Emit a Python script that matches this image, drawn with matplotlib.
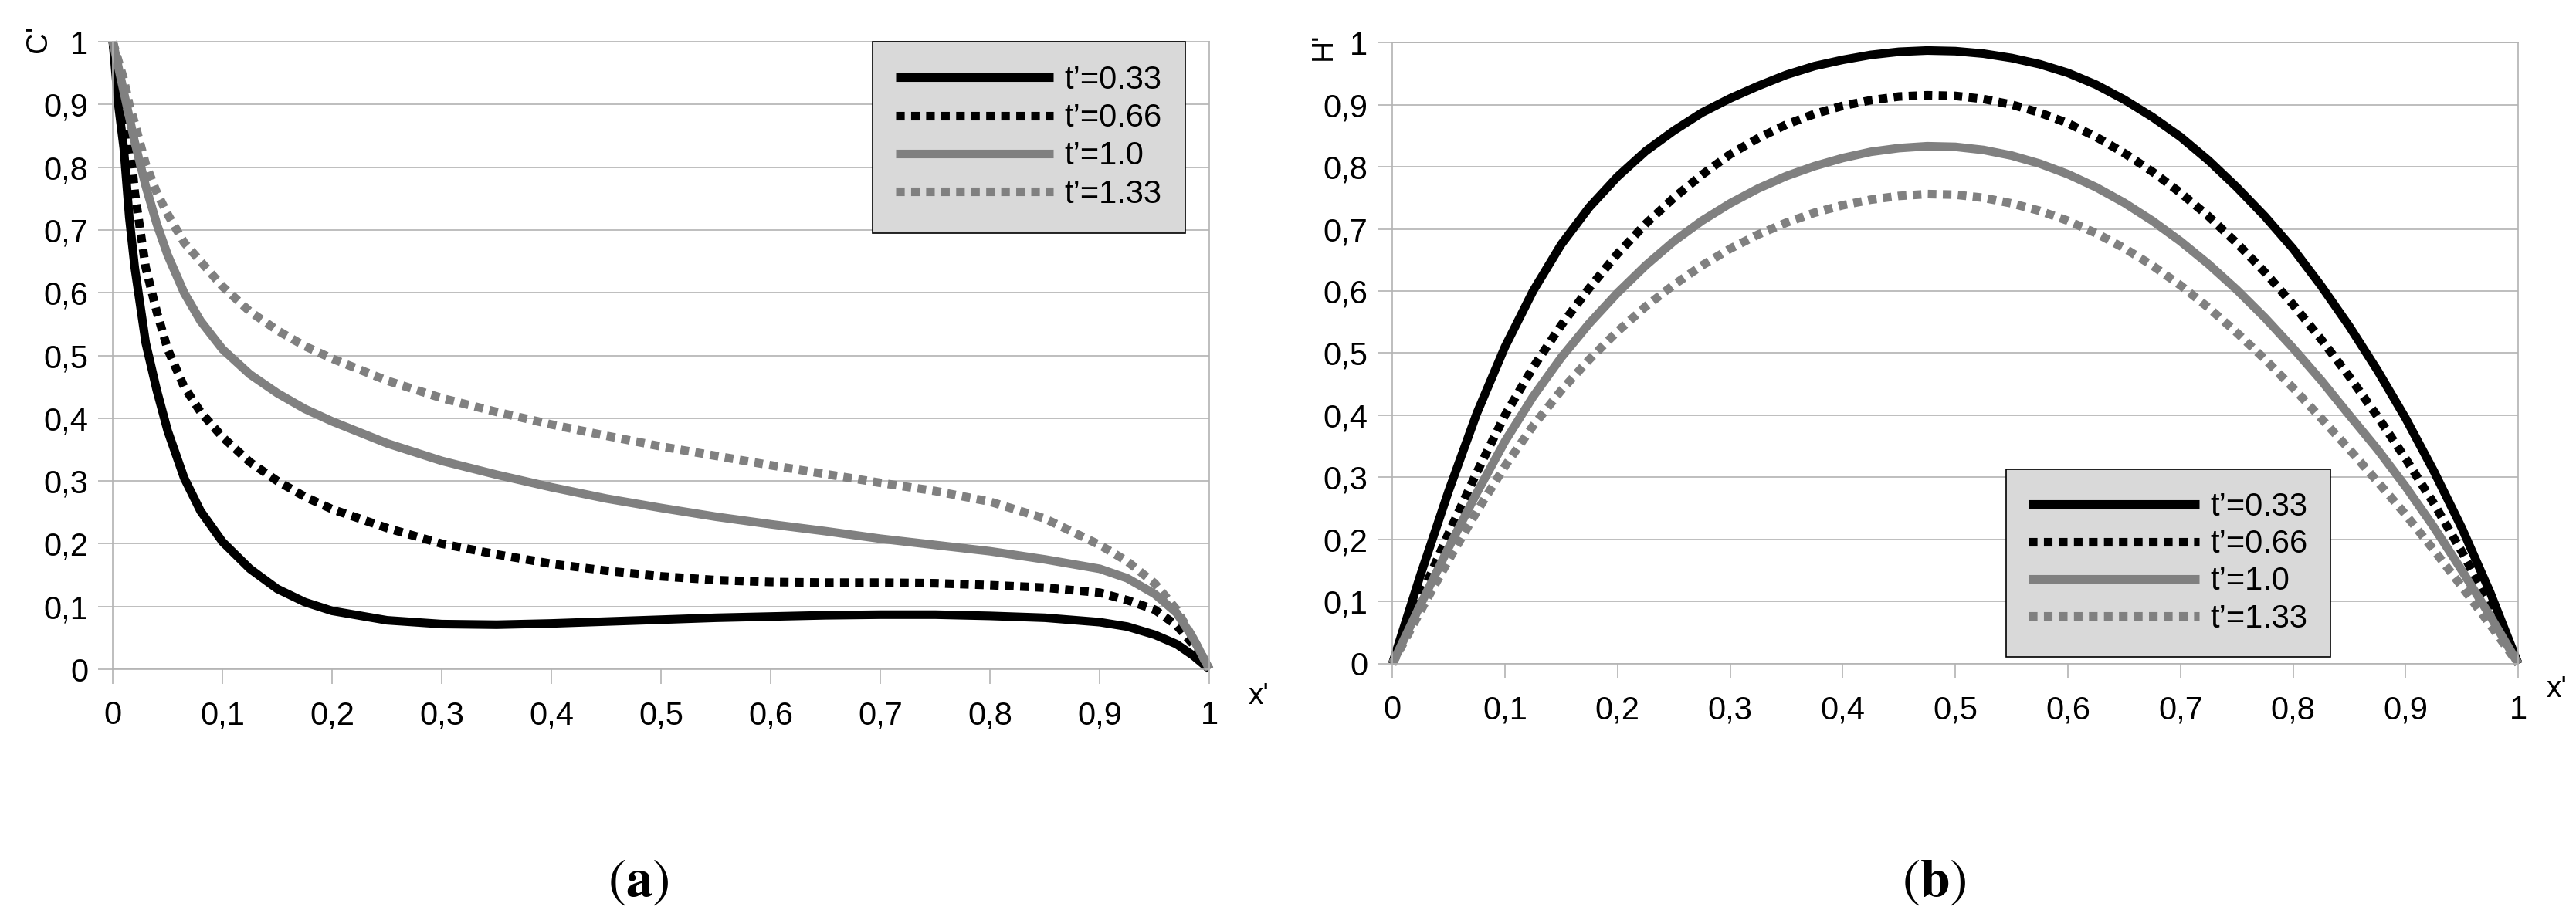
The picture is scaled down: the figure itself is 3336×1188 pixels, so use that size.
# 濃度 C' と H' の空間分布（t' ごと）を2枚並べて描く

import matplotlib.pyplot as plt
from matplotlib import rcParams

rcParams['font.family'] = ['Liberation Sans', 'DejaVu Sans']
rcParams['mathtext.fontset'] = 'stix'

# (a) C'(x') の読み取り値
x_c = [0, 0.005, 0.01, 0.015, 0.02, 0.03, 0.04, 0.05, 0.065, 0.08, 0.1, 0.125,
       0.15, 0.175, 0.2, 0.25, 0.3, 0.35, 0.4, 0.45, 0.5, 0.55, 0.6, 0.65, 0.7,
       0.75, 0.8, 0.85, 0.9, 0.925, 0.95, 0.97, 0.985, 1.0]
c_t033 = [1.0, 0.9, 0.83, 0.72, 0.64, 0.52, 0.445, 0.38, 0.305, 0.252, 0.203,
          0.16, 0.128, 0.107, 0.093, 0.078, 0.072, 0.071, 0.073, 0.076, 0.079,
          0.082, 0.084, 0.086, 0.087, 0.087, 0.085, 0.082, 0.075, 0.068, 0.055,
          0.04, 0.022, 0.0]
c_t066 = [1.0, 0.94, 0.92, 0.85, 0.76, 0.64, 0.57, 0.51, 0.45, 0.41, 0.37, 0.33,
          0.30, 0.275, 0.255, 0.225, 0.20, 0.183, 0.168, 0.157, 0.148, 0.142,
          0.139, 0.138, 0.138, 0.137, 0.134, 0.13, 0.122, 0.11, 0.095, 0.07,
          0.04, 0.0]
c_t100 = [1.0, 0.96, 0.92, 0.88, 0.84, 0.77, 0.71, 0.66, 0.60, 0.555, 0.51, 0.47,
          0.44, 0.415, 0.395, 0.36, 0.332, 0.31, 0.29, 0.272, 0.257, 0.243,
          0.231, 0.22, 0.208, 0.198, 0.188, 0.175, 0.16, 0.145, 0.12, 0.09,
          0.05, 0.0]
c_t133 = [1.0, 0.97, 0.94, 0.90, 0.87, 0.805, 0.76, 0.725, 0.68, 0.65, 0.61, 0.57,
          0.54, 0.515, 0.495, 0.46, 0.432, 0.41, 0.39, 0.372, 0.355, 0.34,
          0.325, 0.311, 0.297, 0.284, 0.267, 0.24, 0.198, 0.172, 0.137, 0.095,
          0.05, 0.0]

# (b) H'(x') の読み取り値
x_h = [0, 0.025, 0.05, 0.075, 0.1, 0.125, 0.15, 0.175, 0.2, 0.225, 0.25, 0.275,
       0.3, 0.325, 0.35, 0.375, 0.4, 0.425, 0.45, 0.475, 0.5, 0.525, 0.55, 0.575,
       0.6, 0.625, 0.65, 0.675, 0.7, 0.725, 0.75, 0.775, 0.8, 0.825, 0.85, 0.875,
       0.9, 0.925, 0.95, 0.975, 1.0]
h_t033 = [0, 0.143, 0.278, 0.403, 0.51, 0.6, 0.675, 0.735, 0.784, 0.825, 0.858,
          0.887, 0.91, 0.93, 0.948, 0.962, 0.972, 0.98, 0.985, 0.987, 0.986,
          0.982, 0.975, 0.965, 0.951, 0.932, 0.908, 0.88, 0.848, 0.81, 0.767,
          0.72, 0.668, 0.608, 0.543, 0.472, 0.395, 0.31, 0.218, 0.115, 0]
h_t066 = [0, 0.107, 0.21, 0.308, 0.4, 0.477, 0.545, 0.605, 0.66, 0.708, 0.75,
          0.787, 0.82, 0.846, 0.868, 0.885, 0.898, 0.907, 0.913, 0.915, 0.914,
          0.909, 0.9, 0.887, 0.87, 0.848, 0.822, 0.792, 0.758, 0.72, 0.677,
          0.63, 0.578, 0.522, 0.462, 0.398, 0.33, 0.258, 0.18, 0.095, 0]
h_t100 = [0, 0.095, 0.187, 0.275, 0.358, 0.43, 0.493, 0.548, 0.597, 0.641, 0.68,
          0.713, 0.741, 0.765, 0.785, 0.801, 0.814, 0.824, 0.83, 0.833, 0.832,
          0.827, 0.818, 0.805, 0.788, 0.767, 0.742, 0.713, 0.68, 0.643, 0.602,
          0.557, 0.508, 0.456, 0.4, 0.345, 0.285, 0.22, 0.15, 0.077, 0]
h_t133 = [0, 0.085, 0.167, 0.245, 0.318, 0.383, 0.44, 0.49, 0.535, 0.575, 0.61,
          0.641, 0.668, 0.691, 0.71, 0.726, 0.738, 0.747, 0.753, 0.756, 0.755,
          0.75, 0.741, 0.729, 0.713, 0.693, 0.669, 0.641, 0.609, 0.573, 0.533,
          0.49, 0.444, 0.395, 0.345, 0.293, 0.24, 0.183, 0.124, 0.063, 0]

labels = ["t’=0.33", "t’=0.66", "t’=1.0", "t’=1.33"]
colors = ['black', 'black', '#808080', '#808080']
styles = ['-', (0, (1.0, 0.75)), '-', (0, (1.0, 0.75))]

ticks = [0, 0.1, 0.2, 0.3, 0.4, 0.5, 0.6, 0.7, 0.8, 0.9, 1.0]
tick_labels = ["0", "0,1", "0,2", "0,3", "0,4", "0,5", "0,6", "0,7", "0,8", "0,9", "1"]

grid_col = '#b3b3b3'

fig = plt.figure(figsize=(33.36, 11.88), dpi=100)
ax1 = fig.add_axes([0.0438, 0.2702, 0.4257, 0.6843])
ax2 = fig.add_axes([0.5405, 0.2761, 0.4371, 0.6776])


def style_axes(ax):
    ax.set_xlim(0, 1)
    ax.set_ylim(0, 1)
    ax.set_xticks(ticks)
    ax.set_xticklabels(tick_labels)
    ax.set_yticks(ticks)
    ax.set_yticklabels(tick_labels)
    for s in ax.spines.values():
        s.set_color(grid_col)
        s.set_linewidth(1.2)
    ax.grid(axis='y', color=grid_col, linewidth=1.2)
    ax.set_axisbelow(True)
    ax.tick_params(axis='both', length=14, width=1.2, color=grid_col,
                   labelsize=30, direction='out')
    ax.tick_params(axis='x', pad=15)
    ax.tick_params(axis='y', pad=9)


# (a)
for y, lab, c, ls in zip([c_t033, c_t066, c_t100, c_t133], labels, colors, styles):
    ax1.plot(x_c, y, color=c, linestyle=ls, linewidth=8, label=lab,
             solid_capstyle='butt', solid_joinstyle='round', clip_on=False)
style_axes(ax1)
leg1 = ax1.legend(loc='upper right', bbox_to_anchor=(0.978, 1.0), fontsize=30,
                  handlelength=4.9, handletextpad=0.35, labelspacing=0.22,
                  borderpad=0.72, borderaxespad=0, fancybox=False,
                  facecolor='#d9d9d9', edgecolor='black', framealpha=1)
leg1.get_frame().set_linewidth(1.2)
ax1.text(-0.068, 1.005, "C'", transform=ax1.transAxes, rotation=90,
         ha='center', va='center', fontsize=28)
ax1.text(1.045, -0.043, "x'", transform=ax1.transAxes,
         ha='center', va='center', fontsize=28)

# (b)
for y, lab, c, ls in zip([h_t033, h_t066, h_t100, h_t133], labels, colors, styles):
    ax2.plot(x_h, y, color=c, linestyle=ls, linewidth=8, label=lab,
             solid_capstyle='butt', solid_joinstyle='round', clip_on=False)
style_axes(ax2)
leg2 = ax2.legend(loc='lower left', bbox_to_anchor=(0.545, 0.0112), fontsize=30,
                  handlelength=5.3, handletextpad=0.35, labelspacing=0.2,
                  borderpad=0.7, borderaxespad=0, fancybox=False,
                  facecolor='#d9d9d9', edgecolor='black', framealpha=1)
leg2.get_frame().set_linewidth(1.2)
ax2.text(-0.061, 0.994, "H'", transform=ax2.transAxes, rotation=90,
         ha='center', va='center', fontsize=28)
ax2.text(1.034, -0.041, "x'", transform=ax2.transAxes,
         ha='center', va='center', fontsize=28)

# 図の下のキャプション
fig.text(0.2479, 0.038, r'$(\mathbf{a})$', ha='center', va='center', fontsize=50)
fig.text(0.7509, 0.038, r'$(\mathbf{b})$', ha='center', va='center', fontsize=50)

fig.savefig("out.png", dpi=100)
